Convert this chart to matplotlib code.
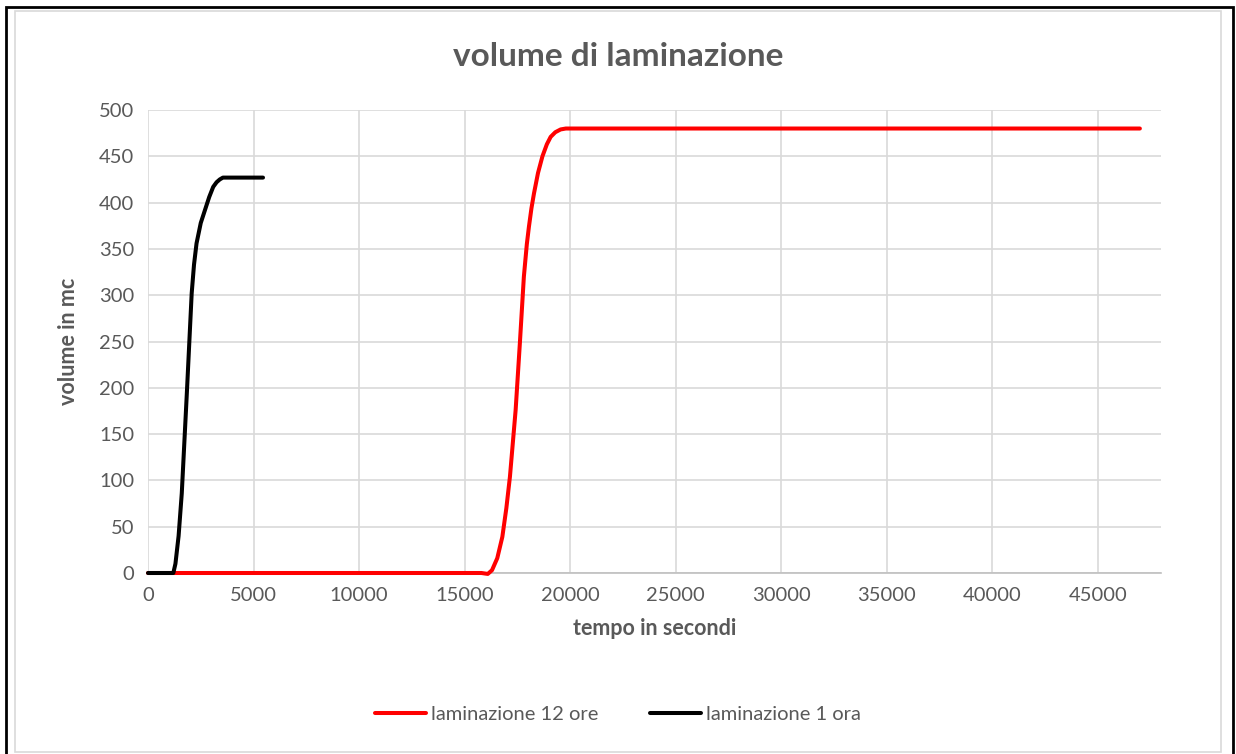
import matplotlib
matplotlib.use("Agg")
import matplotlib.pyplot as plt
from matplotlib.patches import Rectangle

# laminazione 12 ore (tempo s, volume mc)
t_12 = [0, 15000, 15800, 16100, 16300, 16550, 16790, 16980, 17150, 17420,
        17620, 17810, 17950, 18050, 18170, 18290, 18480, 18690, 18900,
        19080, 19300, 19550, 19800, 20000, 30000, 47000]
v_12 = [0, 0, 0, -1, 3, 16, 39, 70, 104, 176,
        248, 320, 355, 374, 394, 410, 432, 450, 463,
        471, 476, 479, 480, 480, 480, 480]

# laminazione 1 ora
t_1 = [0, 1200, 1300, 1450, 1600, 1840, 2070, 2180, 2300, 2500, 2700,
       2900, 3090, 3250, 3400, 3550, 3700, 5450]
v_1 = [0, 0, 10, 40, 86, 194, 302, 333, 356, 378, 392,
       406, 417, 422, 425, 427, 427, 427]

W, H = 1236, 754
fig = plt.figure(figsize=(W / 100, H / 100), dpi=100)
fig.patch.set_facecolor("white")

# cornici
fig.patches.append(Rectangle((6 / W, -0.01), 1227 / W, 1 - 7 / H + 0.01,
                             transform=fig.transFigure, fill=False,
                             edgecolor="black", lw=2))
fig.patches.append(Rectangle((15 / W, 2 / H), 1206 / W, 1 - 13 / H,
                             transform=fig.transFigure, fill=False,
                             edgecolor="#D9D9D9", lw=1.2))

ax = fig.add_axes([148 / W, 1 - 573 / H, (1161 - 148) / W, (573 - 110) / H])
ax.plot(t_12, v_12, color="#FF0000", lw=2.9, solid_capstyle="round",
        solid_joinstyle="round", clip_on=False, zorder=3,
        label="laminazione 12 ore")
ax.plot(t_1, v_1, color="black", lw=2.9, solid_capstyle="round",
        solid_joinstyle="round", clip_on=False, zorder=4,
        label="laminazione 1 ora")

ax.set_xlim(0, 48000)
ax.set_ylim(0, 500)
ax.set_xticks(range(0, 45001, 5000))
ax.set_yticks(range(0, 501, 50))
ax.grid(True, color="#D9D9D9", lw=1.2)
ax.set_axisbelow(True)
for s in ["top", "right", "left"]:
    ax.spines[s].set_visible(False)
ax.spines["bottom"].set_color("#BFBFBF")
ax.spines["bottom"].set_linewidth(1.2)
ax.tick_params(length=0, labelsize=14.5, colors="#595959", pad=10)

font = "Lato"
for lab in ax.get_xticklabels() + ax.get_yticklabels():
    lab.set_family(font)

ax.set_xlabel("tempo in secondi", fontsize=15.5, fontweight="bold",
              color="#595959", family=font, labelpad=10)
ax.set_ylabel("volume in mc", fontsize=15.5, fontweight="bold",
              color="#595959", family=font, labelpad=14)
fig.text(0.5, 1 - 57 / H, "volume di laminazione", ha="center", va="center",
         fontsize=24, fontweight="bold", color="#595959", family=font)

leg = fig.legend(loc="center", bbox_to_anchor=(0.5, 1 - 714 / H), ncol=2,
                 frameon=False, handlelength=2.5,
                 handletextpad=0.25, columnspacing=2.6,
                 prop={"family": font, "size": 14.5})
for txt in leg.get_texts():
    txt.set_color("#595959")

fig.savefig("out.png", dpi=100)
